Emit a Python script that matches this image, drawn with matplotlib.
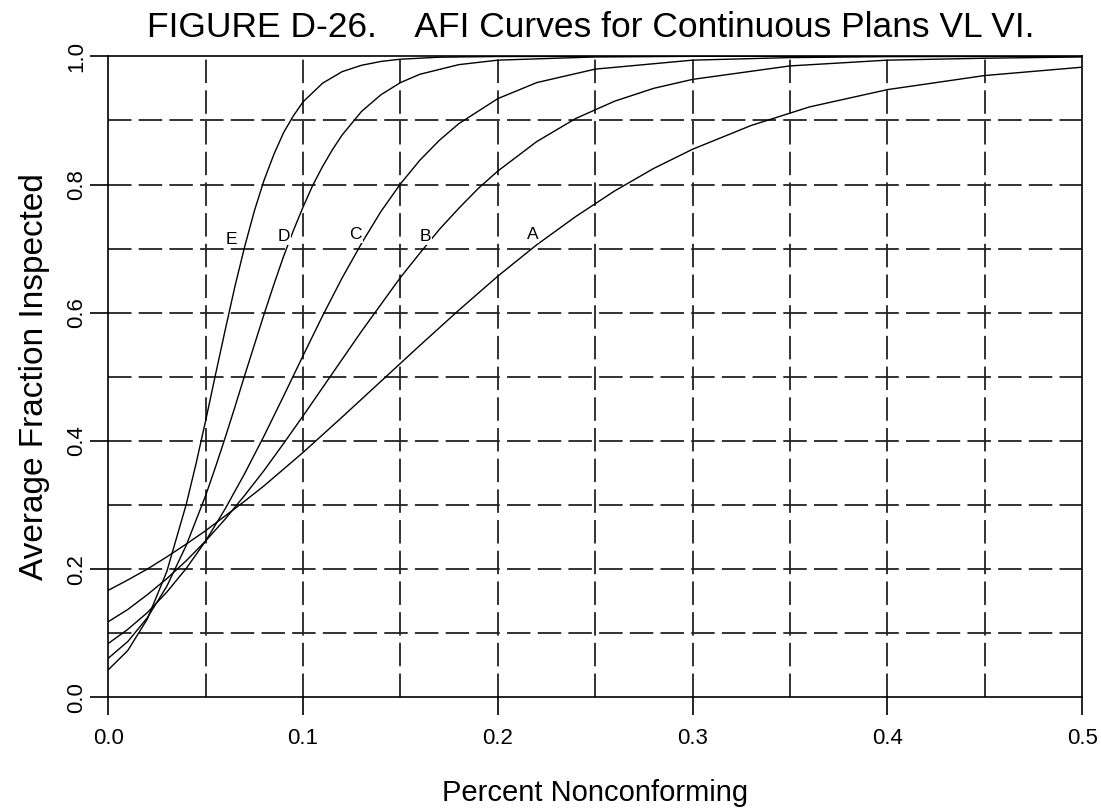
import numpy as np
import matplotlib
matplotlib.use("Agg")
import matplotlib.pyplot as plt

plt.rcParams['font.family'] = ['Liberation Sans', 'DejaVu Sans']

# percent nonconforming sample points for each plan curve
x_a = [0.0, 0.01, 0.02, 0.03, 0.04, 0.05, 0.06, 0.07, 0.08, 0.09, 0.10, 0.12, 0.14,
       0.16, 0.18, 0.20, 0.22, 0.24, 0.26, 0.28, 0.30, 0.33, 0.36, 0.40, 0.45, 0.50]
afi_a = [0.167, 0.183, 0.200, 0.219, 0.239, 0.260, 0.283, 0.306, 0.330, 0.356, 0.382, 0.437, 0.493,
         0.549, 0.604, 0.657, 0.706, 0.750, 0.790, 0.825, 0.855, 0.892, 0.921, 0.948, 0.970, 0.983]

x_b = [0.0, 0.01, 0.02, 0.03, 0.04, 0.05, 0.06, 0.07, 0.08, 0.09, 0.10, 0.11, 0.12, 0.13,
       0.14, 0.15, 0.16, 0.17, 0.18, 0.19, 0.20, 0.22, 0.24, 0.26, 0.28, 0.30, 0.35, 0.40,
       0.45, 0.50]
afi_b = [0.118, 0.137, 0.160, 0.185, 0.213, 0.244, 0.278, 0.315, 0.354, 0.396, 0.439, 0.483, 0.527, 0.571,
         0.613, 0.655, 0.693, 0.730, 0.763, 0.794, 0.821, 0.867, 0.903, 0.930, 0.950, 0.964, 0.985, 0.994,
         0.997, 0.999]

x_c = [0.0, 0.01, 0.02, 0.03, 0.04, 0.05, 0.06, 0.07, 0.08, 0.09, 0.10, 0.11, 0.12, 0.13,
       0.14, 0.15, 0.16, 0.17, 0.18, 0.20, 0.22, 0.25, 0.30, 0.35, 0.40, 0.50]
afi_c = [0.084, 0.106, 0.132, 0.164, 0.201, 0.244, 0.294, 0.349, 0.408, 0.470, 0.533, 0.595, 0.654, 0.708,
         0.758, 0.801, 0.838, 0.869, 0.895, 0.934, 0.959, 0.980, 0.994, 0.998, 0.9995, 1.0]

x_d = [0.0, 0.01, 0.02, 0.03, 0.04, 0.05, 0.055, 0.06, 0.065, 0.07, 0.075, 0.08, 0.085, 0.09,
       0.095, 0.10, 0.105, 0.11, 0.115, 0.12, 0.13, 0.14, 0.15, 0.16, 0.18, 0.20, 0.25, 0.30, 0.50]
afi_d = [0.061, 0.087, 0.124, 0.173, 0.237, 0.315, 0.359, 0.405, 0.453, 0.502, 0.550, 0.598, 0.644, 0.688,
         0.728, 0.765, 0.799, 0.828, 0.854, 0.877, 0.914, 0.940, 0.959, 0.972, 0.987, 0.994, 0.999, 1.0, 1.0]

x_e = [0.0, 0.01, 0.02, 0.03, 0.04, 0.045, 0.05, 0.055, 0.06, 0.065, 0.07, 0.075, 0.08, 0.085,
       0.09, 0.095, 0.10, 0.11, 0.12, 0.13, 0.14, 0.15, 0.17, 0.20, 0.30, 0.50]
afi_e = [0.043, 0.073, 0.122, 0.196, 0.301, 0.364, 0.432, 0.503, 0.573, 0.641, 0.703, 0.759, 0.807, 0.847,
         0.881, 0.907, 0.929, 0.958, 0.976, 0.986, 0.992, 0.9955, 0.9986, 0.9997, 1.0, 1.0]

curve_labels = ['A', 'B', 'C', 'D', 'E']
label_x = [0.218, 0.163, 0.127, 0.090, 0.063]
label_y = [0.722, 0.719, 0.722, 0.719, 0.714]

fig = plt.figure(figsize=(11.01, 8.09), dpi=100)
ax = fig.add_axes([0.0984, 0.1381, 0.8844, 0.7923])

for xs, ys in [(x_a, afi_a), (x_b, afi_b), (x_c, afi_c), (x_d, afi_d), (x_e, afi_e)]:
    ax.plot(xs, ys, color='black', lw=1.0, zorder=3)

for lab, lx, ly in zip(curve_labels, label_x, label_y):
    ax.text(lx, ly, lab, fontsize=12.5, ha='center', va='center', zorder=4,
            bbox=dict(facecolor='white', edgecolor='none', pad=0.5))

# dashed grid
for gx in np.arange(0.05, 0.5, 0.05):
    ax.axvline(gx, color='#222222', lw=1.3, ls=(0, (13, 4)), zorder=1)
for gy in np.arange(0.1, 1.0, 0.1):
    ax.axhline(gy, color='#222222', lw=1.3, ls=(0, (13, 4)), zorder=1)

ax.set_xlim(0, 0.5)
ax.set_ylim(0, 1.0)
ax.set_xticks(np.arange(0, 0.51, 0.1))
ax.set_xticklabels(['0.0', '0.1', '0.2', '0.3', '0.4', '0.5'])
ax.set_yticks(np.arange(0, 1.01, 0.2))
ax.set_yticklabels(['0.0', '0.2', '0.4', '0.6', '0.8', '1.0'], rotation=90, va='center')
ax.tick_params(axis='both', direction='out', length=13, width=1.2, labelsize=16)
ax.tick_params(axis='x', pad=9)
ax.tick_params(axis='y', pad=2)

for s in ax.spines.values():
    s.set_linewidth(1.2)

ax.set_xlabel('Percent Nonconforming', fontsize=21, labelpad=22)
ax.set_ylabel('Average Fraction Inspected', fontsize=24, labelpad=12)
fig.text(0.537, 0.966, 'FIGURE D-26.    AFI Curves for Continuous Plans VL VI.',
         fontsize=25.5, ha='center', va='center')

fig.savefig('out.png', dpi=100)
